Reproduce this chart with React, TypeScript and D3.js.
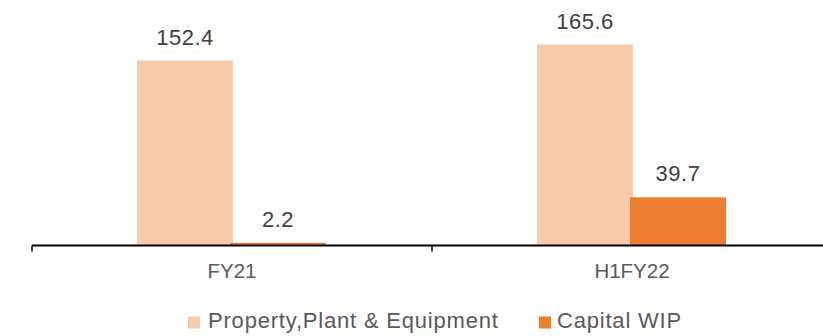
import React from "react";
import * as d3 from "d3";

const categories = ["FY21", "H1FY22"];
const seriesNames = ["Property,Plant & Equipment", "Capital WIP"];
const ppeValues = [152.4, 165.6];
const wipValues = [2.2, 39.7];
const seriesColors = ["#F8CBAD", "#ED7D31"];

const W = 823;
const H = 336;
const baseY = 245.5;
const FONT = "'Liberation Sans', Arial, Helvetica, sans-serif";

export default function App() {
  const x = d3.scaleBand<string>().domain(categories).range([32, 832]).padding(0);
  const y = d3.scaleLinear().domain([0, 165.6]).range([baseY, 44.5]);
  const series = [ppeValues, wipValues];
  const bw = 96;

  const legendItems = [
    { name: seriesNames[0], sx: 188, tx: 208 },
    { name: seriesNames[1], sx: 539, tx: 557 },
  ];

  return (
    <svg
      width={W}
      height={H}
      style={{ position: "absolute", left: 0, top: 0, background: "#fff" }}
      fontFamily={FONT}
    >
      {categories.map((c, i) => {
        const cx = (x(c) ?? 0) + x.bandwidth() / 2;
        return (
          <g key={c}>
            {series.map((vals, s) => {
              const bx = cx + (s === 0 ? -95 : -2);
              const top = y(vals[i]);
              return (
                <g key={s}>
                  <rect x={bx} y={top} width={bw} height={baseY - top} fill={seriesColors[s]} />
                  <text
                    x={bx + bw / 2}
                    y={top - 16}
                    textAnchor="middle"
                    fontSize={22}
                    fill="#404040"
                    style={{ letterSpacing: "0.5px" }}
                  >
                    {vals[i]}
                  </text>
                </g>
              );
            })}
            <text x={cx} y={278} textAnchor="middle" fontSize={20.5} fill="#595959">
              {c}
            </text>
          </g>
        );
      })}
      <line x1={32} x2={W} y1={baseY} y2={baseY} stroke="#000" strokeWidth={2} />
      {[32, 432, 832].map((t) => (
        <line key={t} x1={t} x2={t} y1={baseY} y2={baseY + 6} stroke="#000" strokeWidth={1.5} />
      ))}
      {legendItems.map((it, i) => (
        <g key={it.name}>
          <rect x={it.sx} y={316.5} width={12} height={12} fill={seriesColors[i]} />
          <text x={it.tx} y={328} fontSize={22} fill="#595959" style={{ letterSpacing: "0.8px" }}>
            {it.name}
          </text>
        </g>
      ))}
    </svg>
  );
}
